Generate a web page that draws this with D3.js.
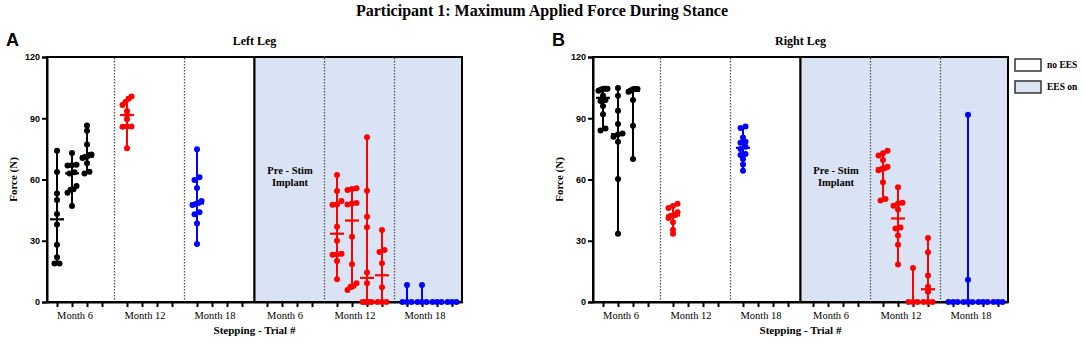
<!DOCTYPE html>
<html>
<head>
<meta charset="utf-8">
<script src="https://cdn.jsdelivr.net/npm/d3@7"></script>
<style>
  body { margin: 0; background: #fff; }
</style>
</head>
<body>
<div id="chart"></div>
<script>
// ---- data ----
const yTicks = [0, 30, 60, 90, 120];
const groupLabels = ["Month 6", "Month 12", "Month 18", "Month 6", "Month 12", "Month 18"];
const legendLabels = ["no EES", "EES on"];

// left leg, no EES (one array per trial column)
const leftM6 = [
  [74.1, 63.7, 53.2, 50.0, 43.1, 37.9, 28.1, 21.9, 18.9, 18.9],
  [73, 67.2, 67, 66.8, 63.5, 63, 56.8, 55.2, 55, 53.5, 47],
  [86.5, 83.9, 77.2, 72.2, 72, 71.2, 71, 70.5, 67.9, 63.8, 63]
];
const leftM12 = [[100.6, 99.5, 98, 96.5, 93.5, 91.6, 89.5, 86, 86, 85.8, 75.3]];
const leftM18 = [[74.8, 61.1, 59.8, 55.8, 49.5, 48.5, 48, 47.5, 44, 43, 38.5, 28.4]];
// left leg, EES on
const leftEesM12 = [
  [62.2, 54.4, 49.5, 47.8, 47.6, 36.9, 30.0, 23.6, 23.4, 23.2, 20.1, 11.1],
  [55.7, 55.4, 54.9, 48.5, 48.3, 47.8, 32.0, 18.5, 9.2, 7.8, 7.5, 5.9],
  [80.7, 54.5, 41.8, 36.6, 14.4, 9.2, 0, 0, 0, 0],
  [35.3, 25.5, 24.5, 19, 7.2, 0, 0, 0]
];
const leftEesM18 = [[8.3, 0, 0, 0], [8.3, 0, 0, 0], [0, 0, 0], [0, 0, 0]];

// right leg, no EES
const rightM6 = [
  [104.5, 104.5, 104.5, 104, 103.5, 101, 99, 98.5, 96, 92, 85, 84],
  [104.8, 101, 93.7, 87.2, 82.5, 82, 81, 78.5, 60.3, 33.4],
  [104.3, 104.3, 104.3, 104, 103.5, 103, 99, 86.3, 70.1]
];
const rightM12 = [[48.1, 47, 46, 44, 42.6, 42.4, 42.2, 41.2, 39.1, 35.4, 33.4]];
const rightM18 = [[86, 85.2, 80.6, 78.5, 78, 76, 75, 72.5, 72, 70, 67.3, 64.3]];
// right leg, EES on
const rightEesM12 = [
  [74.1, 72.8, 71.7, 69.6, 66.3, 65.5, 65.2, 64.5, 58.6, 50.5, 49.7],
  [56.2, 48.6, 48.2, 47.2, 45.3, 36.5, 36.0, 32.6, 28.0, 18.4],
  [16.6, 0, 0, 0],
  [31.3, 24.4, 13, 7.5, 5, 0, 0, 0]
];
const rightEesM18 = [[0, 0, 0], [91.7, 10.9, 0, 0, 0], [0, 0, 0], [0, 0, 0]];

const monthColor = {"Month 6": "#000000", "Month 12": "#ff0000", "Month 18": "#0000ff"};

// which block of columns each data set sits in (0..5)
const panels = [
  {key: "A", title: "Left Leg", left: 47,
   sets: [[0, leftM6], [1, leftM12], [2, leftM18], [4, leftEesM12], [5, leftEesM18]]},
  {key: "B", title: "Right Leg", left: 593,
   sets: [[0, rightM6], [1, rightM12], [2, rightM18], [4, rightEesM12], [5, rightEesM18]]}
];

const SERIF = "'Liberation Serif', 'Times New Roman', 'DejaVu Serif', serif";
const SANS = "'Liberation Sans', Arial, sans-serif";

const width = 1084, height = 343;
const plotTop = 57, plotBottom = 302, plotW = 415;
const slot = (g, j) => g * 14 / 3 + j;   // position of trial column j in block g
const svg = d3.select("#chart").append("svg")
  .attr("width", width).attr("height", height);

function label(parent, txt, x0, y0, size, bold, anchor) {
  return parent.append("text").attr("x", x0).attr("y", y0)
    .attr("text-anchor", anchor || "middle")
    .style("font-family", SERIF).style("font-size", size + "px")
    .style("font-weight", bold ? "bold" : "normal")
    .text(txt);
}

label(svg, "Participant 1: Maximum Applied Force During Stance", 542, 16, 16, true);

const y = d3.scaleLinear().domain([0, 120]).range([plotBottom, plotTop]);

panels.forEach(p => {
  const x = d3.scaleLinear().domain([-2 / 3, 27]).range([p.left, p.left + plotW]);
  const g = svg.append("g");
  const split = x(slot(3, 0) - 5 / 6);

  g.append("text").attr("x", p.left - 41).attr("y", 46)
    .style("font-family", SANS).style("font-size", "18px").style("font-weight", "bold")
    .text(p.key);
  label(g, p.title, p.left + plotW / 2, 45, 12, true);

  // condition boxes
  g.append("rect").attr("x", x.range()[0]).attr("y", plotTop)
    .attr("width", split - x.range()[0]).attr("height", plotBottom - plotTop)
    .attr("fill", "#fff").attr("stroke", "#000").attr("stroke-width", 2);
  g.append("rect").attr("x", split).attr("y", plotTop)
    .attr("width", x.range()[1] - split).attr("height", plotBottom - plotTop)
    .attr("fill", "#dae3f3").attr("stroke", "#000").attr("stroke-width", 2);

  // dotted separators between months
  [1, 2, 4, 5].forEach(b => {
    const xx = x(slot(b, 0) - 5 / 6);
    g.append("line").attr("x1", xx).attr("x2", xx).attr("y1", plotTop + 1).attr("y2", plotBottom)
      .attr("stroke", "#555").attr("stroke-width", 1.3).attr("stroke-dasharray", "1.5,1.5");
  });

  // axes
  const yAxis = g.append("g").attr("transform", `translate(${p.left},0)`)
    .call(d3.axisLeft(y).tickValues(yTicks).tickSize(5).tickPadding(2));
  yAxis.select(".domain").attr("stroke-width", 2);
  yAxis.selectAll(".tick line").attr("stroke-width", 2);
  yAxis.selectAll(".tick text").style("font-size", "9px").style("font-weight", "bold")
    .style("font-family", SANS);

  const tickVals = d3.range(6).flatMap(b => d3.range(4).map(j => slot(b, j)));
  const xAxis = g.append("g").attr("transform", `translate(0,${plotBottom})`)
    .call(d3.axisBottom(x).tickValues(tickVals).tickFormat("").tickSize(5).tickSizeOuter(0));
  xAxis.select(".domain").attr("stroke-width", 2);
  xAxis.selectAll(".tick line").attr("stroke-width", 2);

  groupLabels.forEach((lab, b) => label(g, lab, x(slot(b, 1)) + 3, 319, 10.5, false));
  label(g, "Stepping - Trial #", p.left + plotW / 2, 334, 11, true);
  label(g, "Force (N)", 0, 0, 11, true)
    .attr("transform", `translate(${p.left - 30},${(plotTop + plotBottom) / 2}) rotate(-90)`);

  const mid = x(slot(3, 1)) + 8;
  label(g, "Pre - Stim", mid, 174, 10.5, true);
  label(g, "Implant", mid, 186, 10.5, true);

  // scatter columns: median and range
  p.sets.forEach(([b, cols]) => {
    const color = monthColor[groupLabels[b]];
    cols.forEach((vals, j) => {
      const cx = x(slot(b, j));
      const ext = d3.extent(vals);
      const med = d3.median(vals);
      if (ext[1] > ext[0]) {
        g.append("line").attr("x1", cx).attr("x2", cx)
          .attr("y1", y(ext[0])).attr("y2", y(ext[1]))
          .attr("stroke", color).attr("stroke-width", 2);
      }
      // spread points that sit at nearly the same height
      const sorted = vals.slice().sort((a, c) => a - c);
      const clusters = [];
      sorted.forEach(v => {
        const last = clusters[clusters.length - 1];
        if (last && y(last[last.length - 1]) - y(v) < 3.5) last.push(v);
        else clusters.push([v]);
      });
      clusters.forEach(cl => {
        const n = cl.length;
        const s = n > 1 ? Math.min(5, 9 / (n - 1)) : 0;
        cl.forEach((v, i) => {
          g.append("circle").attr("cx", cx + (i - (n - 1) / 2) * s).attr("cy", y(v))
            .attr("r", 3).attr("fill", color);
        });
      });
      g.append("line").attr("x1", cx - 7).attr("x2", cx + 7)
        .attr("y1", y(med)).attr("y2", y(med))
        .attr("stroke", color).attr("stroke-width", 2.2);
    });
  });
});

// legend
legendLabels.forEach((lab, i) => {
  const ly = 59 + i * 22;
  svg.append("rect").attr("x", 1015).attr("y", ly).attr("width", 26).attr("height", 12)
    .attr("fill", i ? "#dae3f3" : "#fff").attr("stroke", "#333").attr("stroke-width", 1.5);
  label(svg, lab, 1047, ly + 9, 9.5, true, "start");
});
</script>
</body>
</html>
